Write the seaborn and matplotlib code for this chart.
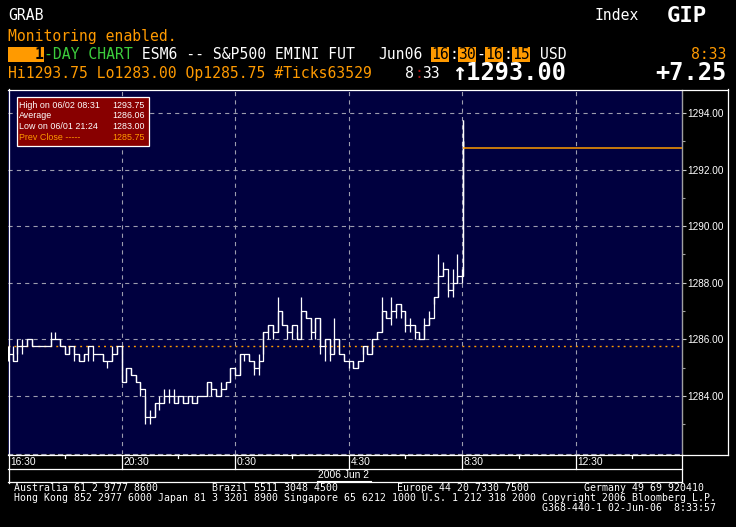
import matplotlib
matplotlib.use("Agg")
import matplotlib.pyplot as plt
from matplotlib.transforms import Affine2D, blended_transform_factory
from matplotlib.patches import Rectangle
from matplotlib.lines import Line2D
import numpy as np
import pandas as pd
import seaborn as sns

# ---------------- data ----------------
session_start = "2006-06-01 16:30"
session_minutes = 1425  # 16:30 - 16:15 next day

bar_close = [
    1285.50, 1285.25, 1285.75, 1285.75, 1286.00, 1285.75, 1285.75, 1285.75, 1285.75, 1286.00,
    1286.00, 1285.75, 1285.50, 1285.75, 1285.50, 1285.25, 1285.50, 1285.75, 1285.50, 1285.50,
    1285.25, 1285.25, 1285.50, 1285.75, 1284.50, 1285.00, 1284.75, 1284.50, 1284.25, 1283.25,
    1283.25, 1283.75, 1283.75, 1284.00, 1284.00, 1283.75, 1284.00, 1283.75, 1284.00, 1283.75,
    1284.00, 1284.00, 1284.50, 1284.25, 1284.00, 1284.25, 1284.50, 1285.00, 1284.75, 1285.50,
    1285.50, 1285.25, 1285.00, 1285.25, 1286.25, 1286.50, 1286.25, 1287.00, 1286.50, 1286.25,
    1286.50, 1286.00, 1287.00, 1286.75, 1286.25, 1286.75, 1285.75, 1286.00, 1285.50, 1286.00,
    1285.50, 1285.25, 1285.25, 1285.00, 1285.25, 1285.75, 1285.50, 1286.00, 1286.25, 1287.00,
    1286.75, 1287.00, 1287.25, 1287.00, 1286.50, 1286.50, 1286.25, 1286.00, 1286.50, 1286.75,
    1287.50, 1288.25, 1288.50, 1287.75, 1288.00, 1288.25]
bar_low = [
    1285.25, 1285.25, 1285.50, 1285.50, 1285.75, 1285.75, 1285.75, 1285.75, 1285.75, 1285.75,
    1286.00, 1285.75, 1285.50, 1285.50, 1285.25, 1285.25, 1285.25, 1285.25, 1285.25, 1285.50,
    1285.25, 1285.00, 1285.25, 1285.50, 1284.50, 1284.50, 1284.75, 1284.50, 1284.00, 1283.00,
    1283.00, 1283.25, 1283.50, 1283.75, 1283.75, 1283.75, 1283.75, 1283.75, 1283.75, 1283.75,
    1283.75, 1284.00, 1284.00, 1284.00, 1284.00, 1284.00, 1284.25, 1284.50, 1284.75, 1284.75,
    1285.25, 1285.25, 1284.75, 1284.75, 1285.50, 1286.00, 1286.00, 1286.25, 1286.50, 1286.00,
    1286.00, 1286.00, 1286.00, 1286.75, 1286.00, 1286.00, 1285.50, 1285.25, 1285.25, 1285.50,
    1285.50, 1285.25, 1285.00, 1285.00, 1285.00, 1285.50, 1285.50, 1285.50, 1286.00, 1286.25,
    1286.75, 1286.50, 1286.75, 1286.75, 1286.25, 1286.25, 1286.00, 1286.00, 1286.00, 1286.50,
    1287.25, 1287.50, 1288.25, 1287.50, 1287.50, 1288.00]
bar_high = [
    1285.75, 1285.75, 1286.00, 1286.00, 1286.00, 1286.00, 1285.75, 1285.75, 1285.75, 1286.25,
    1286.25, 1286.00, 1285.75, 1285.75, 1285.75, 1285.50, 1285.50, 1285.75, 1285.50, 1285.50,
    1285.50, 1285.25, 1285.75, 1285.75, 1285.75, 1285.00, 1285.00, 1284.75, 1284.50, 1284.00,
    1283.50, 1283.75, 1284.00, 1284.25, 1284.25, 1284.25, 1284.00, 1284.00, 1284.00, 1284.00,
    1284.00, 1284.00, 1284.50, 1284.50, 1284.25, 1284.50, 1284.50, 1285.00, 1285.00, 1285.50,
    1285.50, 1285.50, 1285.25, 1285.50, 1286.25, 1286.50, 1286.50, 1287.50, 1287.00, 1286.50,
    1286.50, 1286.25, 1287.50, 1287.00, 1286.75, 1286.75, 1286.75, 1286.00, 1286.00, 1286.75,
    1286.00, 1285.50, 1285.25, 1285.25, 1285.25, 1285.75, 1285.75, 1286.00, 1286.25, 1287.50,
    1287.00, 1287.50, 1287.25, 1287.25, 1287.00, 1286.75, 1286.50, 1286.25, 1286.75, 1287.00,
    1287.50, 1289.00, 1288.75, 1288.00, 1288.50, 1289.00]

spike_times = ["2006-06-02 08:30", "2006-06-02 08:31", "2006-06-02 08:32", "2006-06-02 08:33"]
spike_close = [1288.25, 1293.00, 1293.00, 1292.75]
spike_low = [1288.00, 1288.25, 1290.75, 1292.75]
spike_high = [1288.50, 1293.75, 1293.75, 1293.00]

last_price = 1292.75
prev_close = 1285.75
price_ticks = [1284, 1286, 1288, 1290, 1292, 1294]
minor_price_ticks = [1283, 1285, 1287, 1289, 1291, 1293]
time_labels = ["16:30", "20:30", "0:30", "4:30", "8:30", "12:30"]
minor_time_labels = ["18:30", "22:30", "2:30", "6:30", "10:30", "14:30"]
stats_labels = ["High on 06/02 08:31", "Average", "Low on 06/01 21:24", "Prev Close -----"]
stats_values = ["1293.75", "1286.06", "1283.00", "1285.75"]

# ---------------- build frame ----------------
start = pd.Timestamp(session_start)
bar_times = pd.date_range(start, periods=len(bar_close), freq="10min")
times = list(bar_times) + [pd.Timestamp(t) for t in spike_times]
df = pd.DataFrame({
    "minute": [(t - start).total_seconds() / 60 for t in times],
    "close": bar_close + spike_close,
    "low": bar_low + spike_low,
    "high": bar_high + spike_high,
})

def label_minute(lbl):
    h, m = lbl.split(":")
    return (int(h) * 60 + int(m) - (16 * 60 + 30)) % 1440

# ---------------- figure ----------------
W, H = 736, 527
plt.rcParams["lines.scale_dashes"] = False
fig = plt.figure(figsize=(W / 100, H / 100), dpi=100, facecolor="black")
PX = Affine2D().scale(1 / W, -1 / H).translate(0, 1) + fig.transFigure

NAVY = "#00003f"
ORANGE = "#ff9a00"
GRID = "#9c9cae"
GREEN = "#3ccc3c"
SMALL = ["Liberation Sans", "DejaVu Sans"]

L, R, T, B = 8, 682, 90, 454
ax = fig.add_axes([L / W, 1 - B / H, (R - L) / W, (B - T) / H])
ax.set_facecolor(NAVY)
ymin = 1284 - (B - 396) / 28.27
ymax = 1294 + (113 - T) / 28.27
ax.set_xlim(0, session_minutes)
ax.set_ylim(ymin, ymax)

# grid
major_x = [label_minute(l) for l in time_labels]
for xv in major_x[1:]:
    ax.axvline(xv, color=GRID, lw=0.8, dashes=(3, 3), zorder=1)
for yv in price_ticks:
    ax.axhline(yv, color=GRID, lw=0.8, dashes=(3, 3), zorder=1)

# prev close dotted line
ax.axhline(prev_close, color=ORANGE, lw=1.0, dashes=(1.4, 2.9), zorder=2)

# price series
ax.vlines(df["minute"], df["low"], df["high"], color="white", lw=0.9, zorder=3)
sns.lineplot(data=df, x="minute", y="close", ax=ax, color="white", lw=0.9,
             drawstyle="steps-post", errorbar=None, zorder=4)
# last price line
ax.hlines(last_price, df["minute"].iloc[-1], session_minutes, color=ORANGE, lw=1.1, zorder=4)

# axis styling
for s in ["top", "left"]:
    ax.spines[s].set_visible(False)
ax.spines["bottom"].set_color(GRID)
ax.spines["bottom"].set_linestyle((0, (3, 3)))
ax.spines["bottom"].set_linewidth(0.8)
ax.spines["right"].set_color("#a0a0a0")
ax.spines["right"].set_linewidth(1.0)
ax.set_xticks([])
ax.set_xlabel("")
ax.set_ylabel("")
ax.yaxis.tick_right()
ax.set_yticks(price_ticks)
ax.set_yticklabels([f"{v:.2f}" for v in price_ticks])
ax.set_yticks(minor_price_ticks, minor=True)
ax.tick_params(axis="y", which="major", length=3, width=0.8, color="#c8c8c8",
               labelcolor="white", labelsize=7.2, pad=1)
ax.tick_params(axis="y", which="minor", length=2, width=0.8, color="#a0a0a0")
for lab in ax.get_yticklabels():
    lab.set_family(SMALL)

# ---------------- frame lines (pixel space) ----------------
def pline(xs, ys, color="white", lw=0.9, **kw):
    fig.add_artist(Line2D(xs, ys, transform=PX, color=color, lw=lw, **kw))

pline([8, 727.5], [89.5, 89.5])
pline([8.5, 8.5], [89, 482.5])
pline([727.5, 727.5], [89, 454.5])
pline([682, 727.5], [454.5, 454.5])
for yy in [455, 468.5, 482]:
    pline([8, 682], [yy, yy])
pline([682, 682], [454.5, 482])

# time axis row
xpix = blended_transform_factory(ax.transData, PX)
for xv, lbl in zip(major_x, time_labels):
    if xv > 0:
        fig.add_artist(Line2D([xv, xv], [455, 468.5], transform=xpix, color="white", lw=0.9))
    fig.text(xv + 4, 462, lbl, transform=xpix, color="white", fontsize=7.4, ha="left",
             va="center", family=SMALL)
for lbl in minor_time_labels:
    xv = label_minute(lbl)
    fig.add_artist(Line2D([xv, xv], [455, 457.5], transform=xpix, color="white", lw=0.9))
fig.text(344, 475.5, "2006 Jun 2", transform=PX, color="white", fontsize=7.4, ha="center",
         va="center", family=SMALL)
pline([317, 371], [480.5, 480.5], lw=0.8)

# ---------------- stats box ----------------
fig.add_artist(Rectangle((17, 97), 132, 49, transform=PX, facecolor="#880000",
                         edgecolor="white", lw=0.9))
for i, (lbl, val) in enumerate(zip(stats_labels, stats_values)):
    c = ORANGE if i == 3 else "white"
    y = 105 + i * 10.8
    fig.text(19, y, lbl, transform=PX, color=c, fontsize=6.4, va="center", family=SMALL)
    fig.text(145, y, val, transform=PX, color=c, fontsize=6.4, va="center", ha="right",
             family=SMALL)

# ---------------- header ----------------
MONO = "DejaVu Sans Mono"
def ht(x, y, s, color="white", size=10.6, ha="left", weight="normal", family=MONO):
    fig.text(x, y, s, transform=PX, color=color, fontsize=size, ha=ha, va="center",
             weight=weight, family=family)

ht(8, 16, "GRAB")
ht(594, 16, "Index")
ht(707, 16, "GIP", size=16, ha="right", weight="bold")
ht(8, 36, "Monitoring enabled.", color=ORANGE)

fig.add_artist(Rectangle((8, 47), 36, 15, transform=PX, facecolor=ORANGE, lw=0))
ht(43, 54.5, "1", color="black", ha="right", weight="bold")
ht(44.5, 54.5, "-DAY CHART", color=GREEN)
ht(133, 54.5, " ESM6 -- S&P500 EMINI FUT")
ht(378, 54.5, "Jun06")
for bx, s in [(431, "16"), (458, "30"), (485, "16"), (512, "15")]:
    fig.add_artist(Rectangle((bx, 47), 18, 15, transform=PX, facecolor=ORANGE, lw=0))
    ht(bx + 9, 54.5, s, color="black", ha="center")
ht(453.5, 54.5, ":", ha="center")
ht(480.5, 54.5, "-", ha="center")
ht(507.5, 54.5, ":", ha="center")
ht(540, 54.5, "USD")
ht(727, 54.5, "8:33", color=ORANGE, ha="right")

ht(8, 73.5, "Hi1293.75 Lo1283.00 Op1285.75 #Ticks63529", color=ORANGE)
ht(405, 73.5, "8")
ht(414, 73.5, ":", color="#a01010")
ht(422, 73.5, "33")
ht(452, 72.5, "\u21911293.00", size=17, weight="bold")
ht(727, 72.5, "+7.25", size=17, ha="right", weight="bold")

# ---------------- footer ----------------
FS = 7.1
ht(14, 488, "Australia 61 2 9777 8600", size=FS)
ht(212, 488, "Brazil 5511 3048 4500", size=FS)
ht(397, 488, "Europe 44 20 7330 7500", size=FS)
ht(584, 488, "Germany 49 69 920410", size=FS)
ht(14, 498, "Hong Kong 852 2977 6000 Japan 81 3 3201 8900 Singapore 65 6212 1000 "
            "U.S. 1 212 318 2000 Copyright 2006 Bloomberg L.P.", size=FS)
ht(542, 508, "G368-440-1 02-Jun-06  8:33:57", size=FS)

fig.savefig("out.png", dpi=100, facecolor="black")
